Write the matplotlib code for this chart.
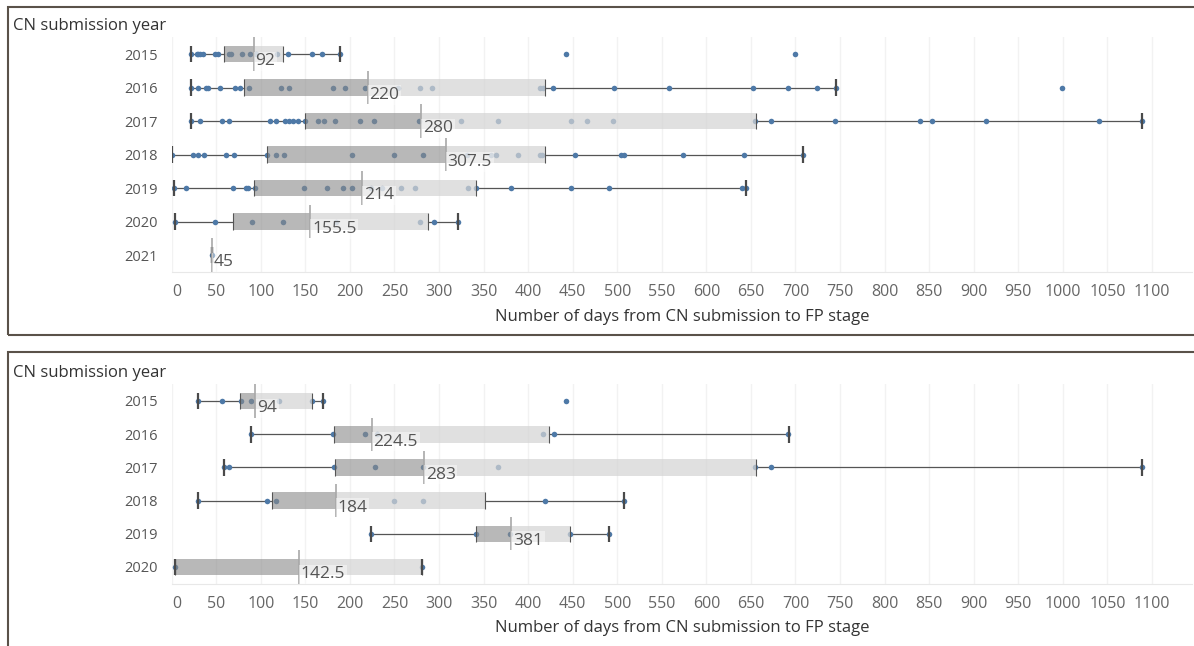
import matplotlib
matplotlib.use("Agg")
import matplotlib.pyplot as plt
from matplotlib.patches import Rectangle
from matplotlib.transforms import ScaledTranslation

plt.rcParams["font.family"] = ["Open Sans", "DejaVu Sans"]

# days from CN submission to FP stage, all CNs
ALL_YEARS = ["2015", "2016", "2017", "2018", "2019", "2020", "2021"]
ALL_POINTS = [
    [22, 28, 30, 32, 35, 49, 52, 64, 67, 79, 88, 95, 118, 130, 158, 169, 189, 442, 700],
    [22, 30, 39, 41, 54, 71, 77, 87, 123, 132, 181, 194, 217, 254, 279, 292, 413, 417,
     428, 496, 558, 652, 692, 724, 745, 999],
    [22, 32, 56, 64, 110, 117, 127, 132, 136, 142, 150, 164, 171, 183, 211, 227, 278, 325,
     366, 448, 466, 495, 655, 672, 744, 840, 853, 914, 1041, 1089],
    [0, 24, 30, 36, 61, 70, 107, 117, 126, 202, 250, 282, 331, 358, 364, 389, 413, 416,
     453, 504, 508, 574, 642, 709],
    [3, 16, 69, 83, 86, 93, 148, 174, 192, 202, 224, 236, 257, 273, 333, 341, 381, 448,
     491, 640, 645],
    [4, 49, 90, 125, 184, 279, 294, 321],
    [45],
]
ALL_Q1 = [59, 81, 150, 107, 92, 69, 45]
ALL_MEDIAN = [92, 220, 280, 307.5, 214, 155.5, 45]
ALL_Q3 = [125, 419, 656, 419, 341, 287.5, 45]
ALL_LOW = [22, 22, 22, 0, 3, 4, 45]
ALL_HIGH = [189, 745, 1089, 709, 645, 321, 45]

# second panel: the subset shown below
SUB_YEARS = ["2015", "2016", "2017", "2018", "2019", "2020"]
SUB_POINTS = [
    [30, 56, 78, 89, 120, 158, 170, 443],
    [89, 181, 217, 230, 417, 429, 692],
    [59, 64, 182, 228, 282, 366, 655, 672, 1089],
    [29, 107, 117, 250, 282, 419, 508],
    [224, 341, 380, 447, 491],
    [4, 281],
]
SUB_Q1 = [77, 182, 183, 112, 342, 4]
SUB_MEDIAN = [94, 224.5, 283, 184, 381, 142.5]
SUB_Q3 = [157, 423, 656, 351.5, 447.5, 281]
SUB_LOW = [30, 89, 59, 29, 224, 4]
SUB_HIGH = [170, 693, 1089, 508, 491, 281]

X_TICKS = [0, 50, 100, 150, 200, 250, 300, 350, 400, 450, 500, 550,
           600, 650, 700, 750, 800, 850, 900, 950, 1000, 1050, 1100]

DOT = "#4e79a7"
FRAME = "#5a5249"
W, H = 1194, 646


def _draw_panel(ax, years, points, q1, med, q3, lo, hi):
    for i in range(len(years)):
        ax.plot([lo[i], q1[i]], [i, i], color="#555555", lw=0.9, zorder=1)
        ax.plot([q3[i], hi[i]], [i, i], color="#555555", lw=0.9, zorder=1)
        ax.scatter(points[i], [i] * len(points[i]), s=16, color=DOT, lw=0, zorder=2)
        ax.barh(i, med[i] - q1[i], left=q1[i], height=0.5, color="#8a8a8a",
                alpha=0.6, lw=0, zorder=3)
        ax.barh(i, q3[i] - med[i], left=med[i], height=0.5, color="#d4d4d4",
                alpha=0.72, lw=0, zorder=3)
        if q3[i] > q1[i]:
            ax.vlines([q1[i], q3[i]], i - 0.25, i + 0.25, color="#555555", lw=0.8, zorder=4)
        ax.vlines([lo[i], hi[i]], i - 0.25, i + 0.25, color="#4a4a4a", lw=1.6, zorder=4)
        ax.vlines(med[i], i - 0.5, i + 0.5, color="#a8a8a8", lw=1.2, zorder=5)
        ax.text(med[i] + 2, i + 0.22, f"{med[i]:g}", fontsize=12.5, color="#555555",
                ha="left", va="center", zorder=6,
                bbox=dict(boxstyle="square,pad=0.1", fc="white", ec="none", alpha=0.45))

    ax.set_xlim(0, 1145)
    ax.set_ylim(len(years) - 0.5, -0.5)
    ax.set_yticks(range(len(years)))
    ax.set_yticklabels(years)
    ax.set_xticks(X_TICKS)
    ax.set_xticklabels([str(t) for t in X_TICKS])
    ax.grid(axis="x", color="#f2f2f2", lw=1)
    ax.set_axisbelow(True)
    for side in ("top", "right", "left"):
        ax.spines[side].set_visible(False)
    ax.spines["bottom"].set_color("#e8e8e8")
    ax.tick_params(axis="y", length=0, pad=10, labelsize=10.5, labelcolor="#555555")
    ax.tick_params(axis="x", length=0, pad=9, labelsize=11.5, labelcolor="#666666")
    # nudge the "0" label off the panel edge
    first = ax.get_xticklabels()[0]
    first.set_transform(first.get_transform() + ScaledTranslation(5 / 100, 0, ax.figure.dpi_scale_trans))
    ax.set_xlabel("Number of days from CN submission to FP stage", fontsize=12,
                  color="#333333", labelpad=6)


fig = plt.figure(figsize=(W / 100, H / 100), dpi=100)

left = 171.7 / W
width = (1192 - 171.7) / W
ax_top = fig.add_axes([left, 1 - 271.75 / H, width, 234.5 / H])
ax_bot = fig.add_axes([left, 1 - 583.6 / H, width, 199.2 / H])

_draw_panel(ax_top, ALL_YEARS, ALL_POINTS, ALL_Q1, ALL_MEDIAN, ALL_Q3, ALL_LOW, ALL_HIGH)
_draw_panel(ax_bot, SUB_YEARS, SUB_POINTS, SUB_Q1, SUB_MEDIAN, SUB_Q3, SUB_LOW, SUB_HIGH)

for y_px in (26, 373):
    fig.text(13 / W, 1 - y_px / H, "CN submission year", fontsize=12, color="#333333",
             ha="left", va="center")

# panel frames run off the right / bottom of the canvas
fig.add_artist(Rectangle((8 / W, 1 - 335 / H), 1.2, (335 - 6.5) / H,
                         transform=fig.transFigure, fill=False, ec=FRAME, lw=1.5))
fig.add_artist(Rectangle((8 / W, -0.2), 1.2, 0.2 + 1 - 352 / H,
                         transform=fig.transFigure, fill=False, ec=FRAME, lw=1.5))

fig.savefig("out.png", dpi=100)
